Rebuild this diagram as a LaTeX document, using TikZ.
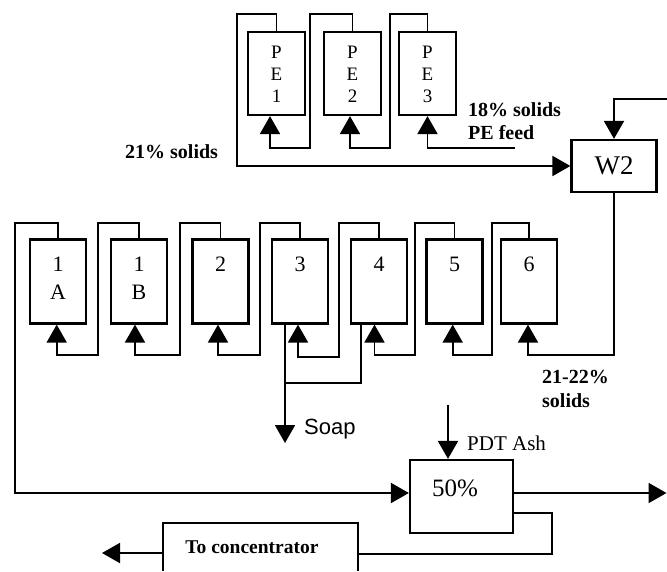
\documentclass[tikz,border=0pt]{standalone}
\usepackage{fontspec}
\setmainfont{Liberation Serif}
\newfontfamily\sansf{Liberation Sans}
\usetikzlibrary{arrows.meta,calc}
\begin{document}
\begin{tikzpicture}[x=1pt,y=-1pt,
  vessel/.style={draw, line width=2.2pt, minimum width=56pt, minimum height=84pt, inner sep=0pt},
  pevessel/.style={draw, line width=2.2pt, minimum width=57pt, minimum height=83pt, inner sep=0pt},
  pipe/.style={line width=1.9pt},
  feed/.style={pipe, -{Triangle[width=20pt,length=18pt]}},
  num/.style={font=\fontsize{22}{28}\selectfont, align=center, inner sep=0pt, anchor=north},
  penum/.style={font=\fontsize{19}{22}\selectfont, align=center, inner sep=0pt, anchor=north},
  lbl/.style={font=\fontsize{20}{23}\selectfont\bfseries, anchor=west, inner sep=0pt}]
\useasboundingbox (0,0) rectangle (667,571);

% ---- PE vessels ----
\node[pevessel] (pe1) at (276.5,73.5) {};
\node[pevessel] (pe2) at (352.5,73.5) {};
\node[pevessel] (pe3) at (427.5,73.5) {};
\node[penum] (pe1t) at ($(pe1.north)+(0,14.5)$) {P\\E\\1};
\node[penum] (pe2t) at ($(pe2.north)+(0,14.5)$) {P\\E\\2};
\node[penum] (pe3t) at ($(pe3.north)+(0,14.5)$) {P\\E\\3};

% ---- W2 ----
\node[draw, line width=2.2pt, minimum width=85pt, minimum height=52pt, inner sep=0pt,
      font=\fontsize{27}{30}\selectfont] (w2) at (614,166) {W2};

% ---- washer row ----
\node[vessel] (t1a) at (58,281.5) {};
\node[vessel] (t1b) at (139,281.5) {};
\node[vessel] (t2) at (220.5,281.5) {};
\node[vessel] (t3) at (300,281.5) {};
\node[vessel] (t4) at (379,281.5) {};
\node[vessel] (t5) at (454.5,281.5) {};
\node[vessel] (t6) at (529,281.5) {};
\node[num] (t1at) at ($(t1a.north)+(0,18.5)$) {1\\A};
\node[num] (t1bt) at ($(t1b.north)+(0,18.5)$) {1\\B};
\node[num] (t2t) at ($(t2.north)+(0,18.5)$) {2};
\node[num] (t3t) at ($(t3.north)+(0,18.5)$) {3};
\node[num] (t4t) at ($(t4.north)+(0,18.5)$) {4};
\node[num] (t5t) at ($(t5.north)+(0,18.5)$) {5};
\node[num] (t6t) at ($(t6.north)+(0,18.5)$) {6};

% ---- 50% tank and concentrator ----
\node[draw, line width=2.2pt, minimum width=103pt, minimum height=73pt, inner sep=0pt] (fifty) at (461.5,496.5) {};
\node[font=\fontsize{25}{28}\selectfont, inner sep=0pt] (fiftyt) at (455,488) {50\%};
\node[minimum width=195pt, minimum height=48pt, inner sep=0pt] (conc) at (260.5,547) {};
\draw[line width=2pt] (conc.south west) |- (conc.north east) -- (conc.south east);
\node[font=\fontsize{19.5}{22}\selectfont\bfseries, inner sep=0pt] (conct) at (252,547) {To concentrator};

% ---- free ends ----
\coordinate (w2in) at (667,99);
\coordinate (pefeed) at (515,148);
\coordinate (soapend) at (285,443);
\coordinate (ashin) at (448,405);
\coordinate (outend) at (666.5,493);
\coordinate (concout) at (102,553);

% ---- PE loops ----
\draw[feed] (pe1.north) |- (236.7,14) |- (w2.west);
\draw[feed] (pe2.north) |- (310,14) -- (310,148) -| ($(pe1.south)+(-6.5,0)$);
\draw[feed] (pe3.north) |- (390,14) -- (390,148) -| ($(pe2.south)+(-2.5,0)$);
\draw[feed] (pefeed) -| (pe3.south);
\draw[feed] (w2in) -| (w2.north);

% ---- washer loops ----
\draw[feed] (t1b.north) |- (97.7,223) -- (97.7,355) -| ($(t1a.south)+(-1.3,0)$);
\draw[feed] (t2.north) |- (180,223) -- (180,355) -| ($(t1b.south)+(-4,0)$);
\draw[feed] (t3.north) |- (260,223) -- (260,355) -| ($(t2.south)+(-2.5,0)$);
\draw[feed] (t4.north) |- (339,223) -- (339,356.7) -| ($(t3.south)+(-2,0)$);
\draw[feed] (t5.north) |- (415,223) -- (415,355) -| ($(t4.south)+(-4.5,0)$);
\draw[feed] (t6.north) |- (491.7,223) -- (491.7,355) -| ($(t5.south)+(-1.8,0)$);
\draw[feed] (w2.south) -- (614,355) -| ($(t6.south)+(-1,0)$);
\draw[feed] (t1a.north) |- (15,223) -- (15,493) -- ($(fifty.west)+(0,-3.5)$);

% ---- soap ----
\draw[feed] ($(t3.south)+(-15,0)$) -- (soapend);
\draw[pipe] ($(t4.south)+(-18,0)$) |- (285,383);

% ---- 50% tank connections ----
\draw[feed] (ashin) -- (ashin |- fifty.north);
\draw[feed] ($(fifty.east)+(0,-3.5)$) -- (outend);
\draw[pipe] ($(fifty.east)+(0,16.5)$) -- (552,513) -- (552,554) -- ($(conc.east)+(0,7)$);
\draw[feed] ($(conc.west)+(0,6)$) -- (concout);

% ---- labels ----
\node[lbl] (l21) at (125,152) {21\% solids};
\node[lbl] (l18) at (468,110) {18\% solids};
\node[lbl] (lpe) at (468,133) {PE feed};
\node[lbl] (l2122) at (542,377) {21-22\%};
\node[lbl] (lsol) at (542,401) {solids};
\node[font=\fontsize{21}{24}\selectfont, anchor=west, inner sep=0pt] (lash) at (467,443) {PDT Ash};
\node[font=\sansf\fontsize{22}{25}\selectfont, anchor=west, inner sep=0pt] (lsoap) at (304,429) {Soap};
\end{tikzpicture}
\end{document}
